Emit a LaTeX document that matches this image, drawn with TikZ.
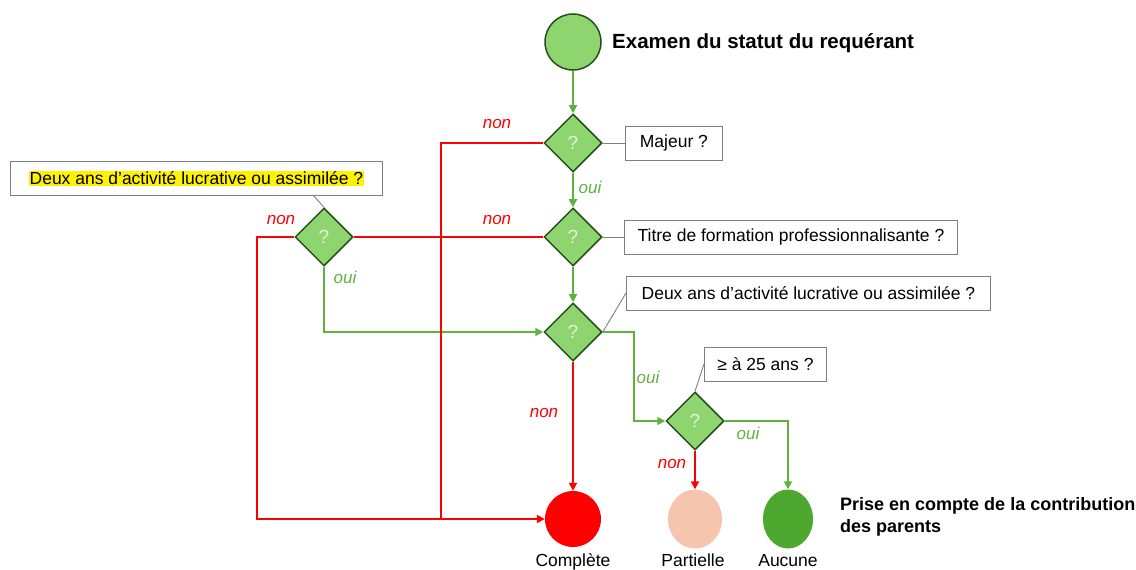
\documentclass[tikz,border=0pt]{standalone}
\usepackage{fontspec}
\setmainfont{Liberation Sans}
\usepackage{tikz}
\usetikzlibrary{positioning, shapes.geometric, arrows.meta}

\definecolor{qfill}{HTML}{8ED46F}
\definecolor{qdark}{HTML}{24501A}
\definecolor{qmark}{HTML}{E4F3DC}
\definecolor{yesgreen}{HTML}{5FB23C}
\definecolor{nored}{HTML}{FF0000}
\definecolor{partfill}{HTML}{F5C5AD}
\definecolor{nonefill}{HTML}{4EA72E}
\definecolor{tiegray}{HTML}{7F7F7F}

\newcommand{\hlyel}[1]{{\setlength{\fboxsep}{1pt}\colorbox{yellow}{#1}}}

\begin{document}
\begin{tikzpicture}[x=1pt, y=-1pt,
    decision/.style={diamond, draw=qdark, line width=1.5pt, fill=qfill, minimum width=58pt, minimum height=58pt, inner sep=0pt, text=qmark, font=\fontsize{19}{22}\selectfont},
    endpt/.style={circle, minimum width=56pt, minimum height=56pt, inner sep=0pt},
    note/.style={rectangle, draw=tiegray, line width=0.9pt, fill=white, minimum height=34pt, inner sep=2pt, font=\fontsize{17.5}{20}\selectfont},
    head/.style={font=\bfseries\fontsize{20.5}{24}\selectfont, inner sep=0pt},
    lbl/.style={font=\fontsize{17.5}{20}\selectfont, inner sep=0pt},
    yesl/.style={font=\itshape\fontsize{17}{20}\selectfont, text=yesgreen, inner sep=0pt},
    nol/.style={font=\itshape\fontsize{17}{20}\selectfont, text=nored, inner sep=0pt},
    yes/.style={draw=yesgreen, line width=1.8pt, -{Triangle[length=8pt, width=8pt]}},
    yesline/.style={draw=yesgreen, line width=1.8pt},
    no/.style={draw=nored, line width=1.8pt, -{Triangle[length=8pt, width=8pt]}},
    noline/.style={draw=nored, line width=1.8pt},
    tie/.style={draw=tiegray, line width=0.9pt}]
    \useasboundingbox (0,0) rectangle (1136,570);

    % start and questions
    \node (start) [endpt, fill=qfill, draw=qdark, line width=1.5pt] at (573,42) {};
    \node (title) [head, anchor=west] at (612,43) {Examen du statut du requérant};
    \node (d1) [decision] at (573,143) {?};
    \node (d2) [decision] at (573,237) {?};
    \node (d3) [decision] at (573,332) {?};
    \node (d0) [decision] at (324,237) {?};
    \node (d4) [decision] at (695,421) {?};

    \node (q1) [note, anchor=west, minimum width=97pt] at (625,143) {Majeur ?};
    \node (q2) [note, anchor=west, minimum width=333pt] at (624,237) {Titre de formation professionnalisante ?};
    \node (q3) [note, anchor=west, minimum width=364pt] at (626,293) {Deux ans d’activité lucrative ou assimilée ?};
    \node (q0) [note, anchor=west, minimum width=372pt] at (10,178.5) {\hlyel{Deux ans d’activité lucrative ou assimilée ?}};
    \node (q4) [note, anchor=west, minimum width=122pt] at (704,364) {≥ à 25 ans ?};
    \coordinate (t0) at (313,195);

    % outcomes
    \node (full) [endpt, fill=nored] at (573,519) {};
    \node (part) [endpt, ellipse, minimum width=54pt, minimum height=59pt, fill=partfill] at (695,519) {};
    \node (none) [endpt, ellipse, minimum width=50pt, minimum height=59pt, fill=nonefill] at (788,519) {};
    \node (lfull) [lbl, anchor=base] at (573,566) {Complète};
    \node (lpart) [lbl, anchor=base] at (693,566) {Partielle};
    \node (lnone) [lbl, anchor=base] at (788,566) {Aucune};
    \node (legend) [head, font=\bfseries\fontsize{18}{22}\selectfont, anchor=west, align=left] at (840,517) {Prise en compte de la contribution\\des parents};

    % answers
    \node (non1) [nol] at (497,124) {non};
    \node (oui1) [yesl] at (590,187) {oui};
    \node (non2) [nol] at (497,220) {non};
    \node (non0) [nol] at (281,220) {non};
    \node (oui0) [yesl] at (345,277) {oui};
    \node (oui3) [yesl] at (648,377) {oui};
    \node (non3) [nol] at (544,413) {non};
    \node (oui4) [yesl] at (748,433) {oui};
    \node (non4) [nol] at (672,464) {non};

    \draw [tie] (d1.east) -- (q1.west);
    \draw [tie] (d2.east) -- (q2.west);
    \draw [tie] (d3.east) -- (q3.west);
    \draw [tie] (d4.north) -- (q4.west);
    \draw [tie] (d0.north) -- (t0);

    \draw [yes] (start) -- (d1);
    \draw [yes] (d1) -- (d2);
    \draw [yes] (d2) -- (d3);
    \draw [yes] (d0.south) |- (d3.west);
    \draw [yes] (d3.east) -- ++(31,0) |- (d4.west);
    \draw [yes] (d4.east) -| (none.north);

    \coordinate (j1) at (441,519);
    \coordinate (j0) at (257,519);
    \draw [noline] (d2.west) -- (d0.east);
    \draw [noline] (d1.west) -| (j1);
    \draw [no] (d0.west) -| (j0) -- (full.west);
    \draw [no] (d3.south) -- (full.north);
    \draw [no] (d4.south) -- (part.north);
\end{tikzpicture}
\end{document}
